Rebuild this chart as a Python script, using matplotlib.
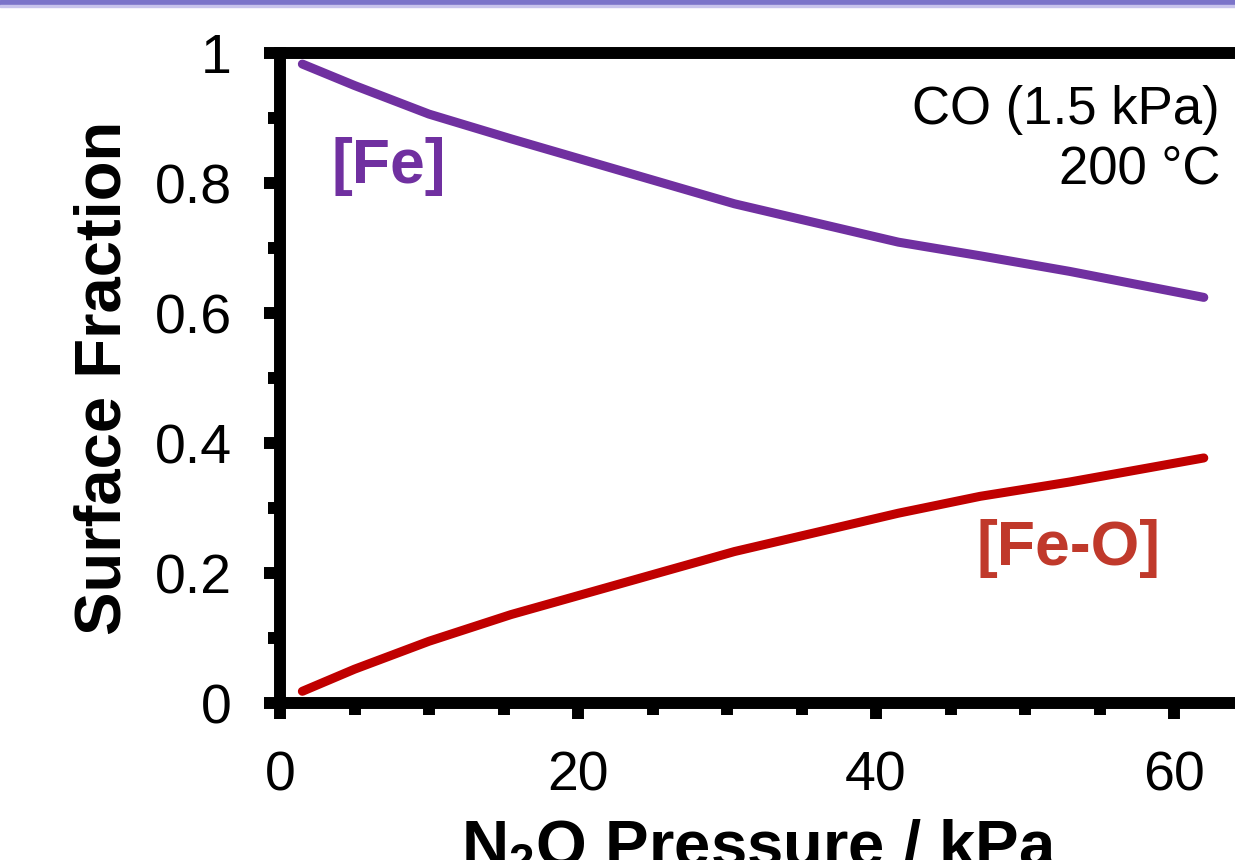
import matplotlib
matplotlib.use("Agg")
import matplotlib.pyplot as plt
from matplotlib.patches import Rectangle
from matplotlib.ticker import MultipleLocator

# N2O pressure (kPa) vs. modelled surface fractions
n2o_pressure = [1.5, 5, 10, 15.5, 30.5, 41.5, 47, 53, 62]
frac_fe = [0.983, 0.950, 0.906, 0.868, 0.768, 0.709, 0.688, 0.664, 0.624]
frac_feo = [0.018, 0.052, 0.095, 0.136, 0.233, 0.292, 0.318, 0.340, 0.377]

x_ticks = [0, 20, 40, 60]
y_ticks = [0, 0.2, 0.4, 0.6, 0.8, 1]
y_tick_labels = ["0", "0.2", "0.4", "0.6", "0.8", "1"]

FE_COLOR = "#7030a0"
FEO_COLOR = "#c00000"
FEO_TEXT = "#c0392b"

plt.rcParams["font.family"] = ["Liberation Sans", "DejaVu Sans"]
plt.rcParams["mathtext.fontset"] = "custom"
plt.rcParams["mathtext.rm"] = "Liberation Sans"
plt.rcParams["mathtext.bf"] = "Liberation Sans:bold"

W, H = 1235, 860
fig = plt.figure(figsize=(W / 100, H / 100), dpi=100)

# axes placed in pixels; the right side runs off the canvas like the original
x_max = 65
px_per_x = 14.9
ax = fig.add_axes([280 / W, (H - 703) / H, x_max * px_per_x / W, 650 / H])

ax.plot(n2o_pressure, frac_fe, color=FE_COLOR, lw=6.5, solid_capstyle="round", zorder=3)
ax.plot(n2o_pressure, frac_feo, color=FEO_COLOR, lw=6.5, solid_capstyle="round", zorder=3)

ax.set_xlim(0, x_max)
ax.set_ylim(0, 1)
ax.set_xticks(x_ticks)
ax.set_yticks(y_ticks)
ax.set_yticklabels(y_tick_labels)
ax.xaxis.set_minor_locator(MultipleLocator(5))
ax.yaxis.set_minor_locator(MultipleLocator(0.1))

for side in ["left", "bottom", "top"]:
    ax.spines[side].set_linewidth(8.6)
ax.spines["right"].set_visible(False)

ax.tick_params(which="both", direction="out", width=8.6, top=False, right=False)
ax.tick_params(which="major", length=11.5, labelsize=40, pad=23)
ax.tick_params(which="minor", length=8.6)

ax.set_ylabel("Surface Fraction", fontsize=47, fontweight="bold")
ax.yaxis.set_label_coords(-0.151, 0.5)
ax.set_xlabel(r"N$_\mathbf{2}$O Pressure / kPa", fontsize=47, fontweight="bold")
ax.xaxis.set_label_coords(0.4946, -0.176)

ax.text(7.3, 0.825, "[Fe]", color=FE_COLOR, fontsize=45, fontweight="bold",
        ha="center", va="center")
ax.text(52.9, 0.237, "[Fe-O]", color=FEO_TEXT, fontsize=45, fontweight="bold",
        ha="center", va="center")

fig.text(1220 / W, 1 - 124 / H, "CO (1.5 kPa)", fontsize=38, ha="right", va="baseline")
fig.text(1220 / W, 1 - 183 / H, "200 °C", fontsize=38, ha="right", va="baseline")

# slide header strip at the very top
fig.patches.append(Rectangle((0, 1 - 5 / H), 1, 5 / H, transform=fig.transFigure,
                             color="#7b74c9", zorder=5))
fig.patches.append(Rectangle((0, 1 - 6.5 / H), 1, 1.5 / H, transform=fig.transFigure,
                             color="#c8c4ec", zorder=5))

fig.savefig("out.png", dpi=100)
